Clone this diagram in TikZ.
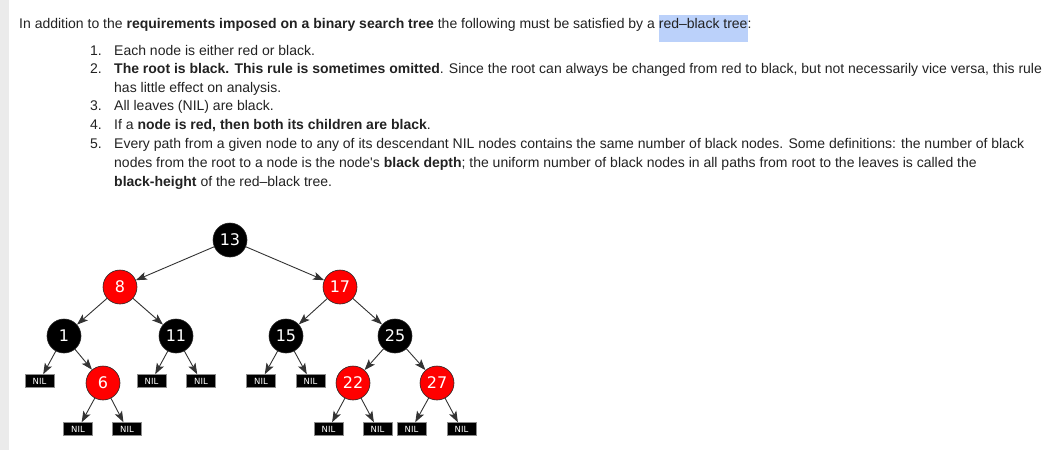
\documentclass[tikz,border=0pt]{standalone}
\usepackage{fontspec}
\setmainfont{Liberation Sans}[Ligatures=TeXOff]
\newfontfamily\dv{DejaVu Sans}
\usetikzlibrary{arrows.meta}
\definecolor{txt}{HTML}{222222}
\definecolor{hlblue}{HTML}{BBD1FA}
\definecolor{rbred}{HTML}{FF0000}
\definecolor{sidebar}{HTML}{EBEBEB}
\newcommand{\hlbox}[1]{{\setlength{\fboxsep}{0pt}\colorbox{hlblue}{\rule[-13.4pt]{0pt}{26.7pt}#1}}}
\begin{document}
\begin{tikzpicture}[x=1pt,y=-1pt,
  txtline/.style={anchor=base west, inner sep=0pt, text=txt, font=\fontsize{14}{16}\selectfont},
  blk/.style={circle, fill=black, draw=black!85, line width=0.6pt, minimum size=34pt, inner sep=0pt, text=white, font=\dv\fontsize{16}{16}\selectfont},
  rd/.style={blk, fill=rbred},
  nil/.style={rectangle, fill=black, draw=black!45, line width=0.5pt, minimum width=29pt, minimum height=13pt, inner sep=0pt, text=white, font=\dv\fontsize{8.5}{8.5}\selectfont},
  edge/.style={draw=black!80, line width=0.9pt, -{Stealth[length=11pt,width=8pt,inset=2.5pt]}}
]
\useasboundingbox (0,0) rectangle (1047,450);
\fill[sidebar] (0,0) rectangle (9,450);

% text
\node[txtline] (l0) at (19,28.3) {In addition to the \textbf{requirements imposed on a binary search tree} the following must be satisfied by a \hlbox{red–black tree}:};
\node[txtline] (n1) at (90,55) {1.};
\node[txtline] (t1) at (114,55) {Each node is either red or black.};
\node[txtline] (n2) at (90,73.5) {2.};
\node[txtline] (t2) at (114,73.5) {\textbf{The root is black. This rule is sometimes omitted}. Since the root can always be changed from red to black, but not necessarily vice versa, this rule};
\node[txtline] (t2b) at (114,92) {has little effect on analysis.};
\node[txtline] (n3) at (90,110.5) {3.};
\node[txtline] (t3) at (114,110.5) {All leaves (NIL) are black.};
\node[txtline] (n4) at (90,129.5) {4.};
\node[txtline] (t4) at (114,129.5) {If a \textbf{node is red, then both its children are black}.};
\node[txtline] (n5) at (90,148.5) {5.};
\node[txtline] (t5) at (114,148.5) {Every path from a given node to any of its descendant NIL nodes contains the same number of black nodes. Some definitions: the number of black};
\node[txtline] (t5b) at (114,167.5) {nodes from the root to a node is the node's \textbf{black depth}; the uniform number of black nodes in all paths from root to the leaves is called the};
\node[txtline] (t5c) at (114,186.5) {\textbf{black-height} of the red–black tree.};

% tree nodes
\node[blk] (k13) at (230,240) {13};
\node[rd]  (k8)  at (120,287) {8};
\node[rd]  (k17) at (340,287) {17};
\node[blk] (k1)  at (64,336) {1};
\node[blk] (k11) at (176,336) {11};
\node[blk] (k15) at (286,336) {15};
\node[blk] (k25) at (395,336) {25};
\node[rd]  (k6)  at (103,383) {6};
\node[rd]  (k22) at (353,383) {22};
\node[rd]  (k27) at (437,383) {27};
\node[nil] (z1)  at (39.5,381) {NIL};
\node[nil] (z2)  at (78,429) {NIL};
\node[nil] (z3)  at (127,429) {NIL};
\node[nil] (z4)  at (151.5,381) {NIL};
\node[nil] (z5)  at (201,381) {NIL};
\node[nil] (z6)  at (261,381) {NIL};
\node[nil] (z7)  at (310.5,381) {NIL};
\node[nil] (z8)  at (328.5,429) {NIL};
\node[nil] (z9)  at (377.5,429) {NIL};
\node[nil] (z10) at (411.5,429) {NIL};
\node[nil] (z11) at (461.5,429) {NIL};

% edges
\draw[edge] (k13) -- (k8);
\draw[edge] (k13) -- (k17);
\draw[edge] (k8) -- (k1);
\draw[edge] (k8) -- (k11);
\draw[edge] (k1) -- (z1);
\draw[edge] (k1) -- (k6);
\draw[edge] (k6) -- (z2);
\draw[edge] (k6) -- (z3);
\draw[edge] (k11) -- (z4);
\draw[edge] (k11) -- (z5);
\draw[edge] (k17) -- (k15);
\draw[edge] (k17) -- (k25);
\draw[edge] (k15) -- (z6);
\draw[edge] (k15) -- (z7);
\draw[edge] (k25) -- (k22);
\draw[edge] (k25) -- (k27);
\draw[edge] (k22) -- (z8);
\draw[edge] (k22) -- (z9);
\draw[edge] (k27) -- (z10);
\draw[edge] (k27) -- (z11);
\end{tikzpicture}
\end{document}
